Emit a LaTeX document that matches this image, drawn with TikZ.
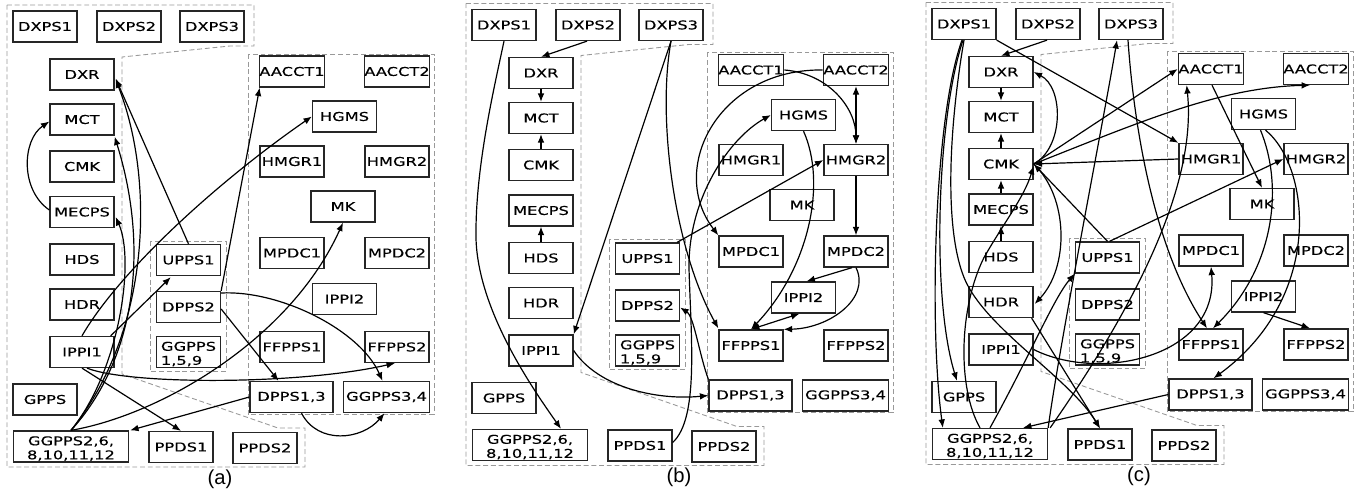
\documentclass[tikz,border=0pt]{standalone}
\usepackage{fontspec}
\setmainfont{Liberation Sans}
\newfontfamily\boxfont[FakeStretch=1.34,FakeBold=0.4]{DejaVu Sans}
\usetikzlibrary{arrows.meta,calc}

\tikzset{
  x=0.02cm, y=-0.02cm,
  box/.style={draw=black!85, line width=0.75pt, minimum width=1.28cm,
    minimum height=0.62cm, inner sep=0pt,
    font=\boxfont\fontsize{6.9}{8}\selectfont},
  wbox/.style={box, minimum width=#1},
  grp/.style={draw=black!40, line width=0.5pt, dash pattern=on 2.8pt off 1.6pt},
  edg/.style={line width=0.68pt, -{Latex[length=4.8pt,width=3.8pt]}},
  dedg/.style={line width=0.68pt, {Latex[length=4.8pt,width=3.8pt]}-{Latex[length=4.8pt,width=3.8pt]}},
  panellabel/.style={font=\fontsize{11.5}{13}\selectfont},
}

% the same set of boxes and group outlines is used in every panel
\newcommand\panelnodes[1]{%
  \draw[grp] (7,5) -- (254,5) -- (254,46) -- (230,46) -- (122,57) -- (122,374)
    -- (278,428) -- (305,428) -- (305,467) -- (7,467) -- cycle;
  \draw[grp] (248,54) rectangle (434,414);
  \draw[grp] (150,241) rectangle (226,371);
  \node[box] (#1DXPS1) at (45,26.5) {DXPS1};
  \node[box] (#1DXPS2) at (129,26.5) {DXPS2};
  \node[box] (#1DXPS3) at (212,26.5) {DXPS3};
  \node[box] (#1DXR) at (82,74.5) {DXR};
  \node[box] (#1MCT) at (82,119.5) {MCT};
  \node[box] (#1CMK) at (82,166.5) {CMK};
  \node[box] (#1MECPS) at (82,212) {MECPS};
  \node[box] (#1HDS) at (82,259.5) {HDS};
  \node[box] (#1HDR) at (82,304.5) {HDR};
  \node[box] (#1IPPI1) at (82,352) {IPPI1};
  \node[box] (#1GPPS) at (45,399.5) {GPPS};
  \node[wbox=2.3cm, align=center] (#1GGPPS2) at (71,446.5) {\rule{0pt}{7.4pt}GGPPS2,6,\\8,10,11,12};
  \node[box] (#1PPDS1) at (181,447) {PPDS1};
  \node[box] (#1PPDS2) at (265,448) {PPDS2};
  \node[box] (#1UPPS1) at (188.5,260) {UPPS1};
  \node[box] (#1DPPS2) at (188.5,307) {DPPS2};
  \node[box, align=left] (#1GGPPS159) at (188.5,352) {\rule{0pt}{7.4pt}GGPPS\\1,5,9};
  \node[box] (#1AACCT1) at (292,71.5) {AACCT1};
  \node[box] (#1AACCT2) at (397,71.5) {AACCT2};
  \node[box] (#1HGMS) at (344.5,116.5) {HGMS};
  \node[box] (#1HMGR1) at (292,161.5) {HMGR1};
  \node[box] (#1HMGR2) at (397,161.5) {HMGR2};
  \node[box] (#1MK) at (343,206.5) {MK};
  \node[box] (#1MPDC1) at (292,253) {MPDC1};
  \node[box] (#1MPDC2) at (397,253) {MPDC2};
  \node[box] (#1IPPI2) at (344.5,299) {IPPI2};
  \node[box] (#1FFPPS1) at (292,347) {FFPPS1};
  \node[box] (#1FFPPS2) at (397,347) {FFPPS2};
  \node[wbox=1.66cm] (#1DPPS13) at (291.5,397) {DPPS1,3};
  \node[wbox=1.72cm] (#1GGPPS34) at (386.5,397) {GGPPS3,4};
}

\begin{document}
\begin{tikzpicture}
\useasboundingbox (0,0) rectangle (1355,499);

% ---------------- panel (a)
\begin{scope}
\panelnodes{a}
\node[panellabel] (labA) at (220,479) {(a)};
\draw[edg] ($(aMECPS.west)+(0,-2)$) .. controls (20,190) and (22,140) .. ($(aMCT.west)+(0,2)$);
\draw[edg] (aGGPPS2.north) .. controls (120,370) and (135,260) .. ($(aMECPS.east)+(1,5)$);
\draw[edg] (aGGPPS2.north) .. controls (135,360) and (150,250) .. ($(aMCT.south east)+(0,1)$);
\draw[edg] (aGGPPS2.north) .. controls (151,331) and (155,180) .. ($(aDXR.east)+(1,5)$);
\draw[edg] (aUPPS1.north) -- ($(aDXR.east)+(1,4)$);
\draw[edg] (aIPPI1.north) .. controls (120,270) and (220,180) .. (aHGMS.west);
\draw[edg] ($(aIPPI1.north east)+(-4,0)$) -- ($(aUPPS1.south west)+(15,1)$);
\draw[edg] (aIPPI1.south) -- (aPPDS1.north);
\draw[edg] ($(aIPPI1.south)+(5,0)$) .. controls (130,385) and (300,385) .. ($(aFFPPS2.south)+(-2,0)$);
\draw[edg] (aDPPS2.north east) -- ($(aAACCT1.south west)+(1,0)$);
\draw[edg] ($(aDPPS2.east)+(0,-14)$) .. controls (280,290) and (360,330) .. ($(aGGPPS34.north)+(-4,0)$);
\draw[edg] ($(aDPPS2.east)+(0,2)$) -- ($(aDPPS13.north)+(-13,0)$);
\draw[edg] (aDPPS13.west) -- ($(aGGPPS2.north east)+(1,0)$);
\draw[edg] ($(aDPPS13.south)+(10,0)$) .. controls (318,445) and (362,440) .. ($(aGGPPS34.south)+(-2,0)$);
\draw[edg] (aGGPPS2.north) .. controls (160,415) and (290,340) .. (aMK.south);
\end{scope}

% ---------------- panel (b)
\begin{scope}[shift={(459,-1.5)}]
\panelnodes{b}
\node[panellabel] (labB) at (220,479) {(b)};
\draw[edg] ($(bDXPS2.south)+(-1,0)$) -- (bDXR.north);
\draw[edg] (bDXR.south) -- (bMCT.north);
\draw[edg] (bCMK.north) -- (bMCT.south);
\draw[edg] (bHDS.north) -- (bMECPS.south);
\draw[edg] (bDXPS1.south) .. controls (35,90) and (16,170) .. (17,240) .. controls (19,310) and (70,385) .. ($(bGGPPS2.north)+(31,0)$);
\draw[edg] (bDXPS3.south) -- (bIPPI1.north east);
\draw[edg] (bDXPS3.south) .. controls (198,120) and (215,250) .. ($(bFFPPS1.north west)+(0,-1)$);
\draw[edg] (bIPPI1.east) .. controls (140,390) and (200,402) .. (bDPPS13.west);
\draw[edg] ($(bUPPS1.north east)+(-3,0)$) -- (bHMGR2.west);
\draw[edg] ($(bPPDS1.east)+(0,-3)$) .. controls (240,420) and (232,340) .. (230,270) .. controls (229,200) and (270,140) .. (bHGMS.west);
\draw[edg] (bDPPS13.north west) .. controls (240,355) and (235,318) .. ($(bDPPS2.east)+(0,2)$);
\draw[edg] (bHGMS.south) .. controls (368,185) and (350,270) .. (bFFPPS1.north);
\draw[dedg] ($(bIPPI2.south)+(-4,0)$) -- (bFFPPS1.north);
\draw[edg] ($(bMPDC2.south)+(-4,0)$) -- ($(bIPPI2.north)+(3,0)$);
\draw[edg] (bMPDC2.south) .. controls (412,300) and (370,330) .. (bFFPPS1.north east);
\draw[edg] (bHMGR2.south) -- (bMPDC2.north);
\draw[dedg] (bAACCT2.south) -- (bHMGR2.north);
\draw[edg] (bAACCT1.east) .. controls (370,75) and (397,110) .. (bHMGR2.north);
\draw[edg] (bAACCT2.west) .. controls (260,70) and (208,170) .. (bMPDC1.north west);
\end{scope}

% ---------------- panel (c)
\begin{scope}[shift={(919,-2.5)}]
\panelnodes{c}
\node[panellabel] (labC) at (220,479) {(c)};
\draw[edg] ($(cDXPS2.south)+(-1,0)$) -- (cDXR.north);
\draw[edg] (cDXR.south) -- (cMCT.north);
\draw[edg] (cCMK.north) -- (cMCT.south);
\draw[edg] (cMECPS.north) -- (cCMK.south);
\draw[edg] (cHDS.north) -- (cMECPS.south);
\draw[edg] (cCMK.east) .. controls (145,150) and (145,90) .. (cDXR.east);
\draw[edg] (cCMK.east) .. controls (150,200) and (150,270) .. ($(cHDR.east)+(1,2)$);
\draw[edg] (cCMK.east) -- (cAACCT1.west);
\draw[edg] (cCMK.east) .. controls (220,125) and (300,90) .. ($(cAACCT2.south)+(-6,0)$);
\draw[edg] (cHMGR1.west) -- (cCMK.east);
\draw[edg] (cUPPS1.north) -- (cCMK.east);
\draw[edg] ($(cUPPS1.north)+(2,0)$) -- (cHMGR2.west);
\draw[edg] ($(cGGPPS2.north)+(-10,0)$) .. controls (38,390) and (40,310) .. (65,260) .. controls (85,225) and (105,200) .. ($(cCMK.east)+(0,2)$);
\draw[edg] ($(cDXPS1.south)+(-2,0)$) .. controls (15,120) and (10,330) .. ($(cGGPPS2.north west)+(11,0)$);
\draw[edg] ($(cDXPS1.south)+(-1,0)$) .. controls (18,120) and (12,300) .. ($(cGPPS.north)+(-7,0)$);
\draw[edg] (cDXPS1.south) .. controls (30,130) and (25,230) .. (45,280) .. controls (65,330) and (150,380) .. (cPPDS1.north);
\draw[edg] (cDXPS1.south east) -- (cHMGR1.north west);
\draw[edg] ($(cHDR.south east)+(-2,0)$) -- (cPPDS1.north);
\draw[edg] (cGGPPS2.north) .. controls (110,360) and (135,300) .. (cUPPS1.south west);
\draw[edg] (cGGPPS2.north east) .. controls (140,350) and (185,120) .. ($(cDXPS3.south)+(-14,0)$);
\draw[edg] ($(cGGPPS2.north east)+(2,0)$) .. controls (250,260) and (275,160) .. ($(cAACCT1.south west)+(9,0)$);
\draw[edg] (cDPPS13.west) -- ($(cGGPPS2.north)+(33,0)$);
\draw[edg] ($(cDXPS3.south)+(-3,0)$) .. controls (215,130) and (235,250) .. ($(cFFPPS1.north)+(-4,0)$);
\draw[edg] ($(cHGMS.south)+(-3,0)$) .. controls (365,190) and (355,270) .. ($(cFFPPS1.north)+(2,0)$);
\draw[edg] ($(cHGMS.south)+(2,0)$) .. controls (392,170) and (405,300) .. ($(cDPPS13.north)+(3,0)$);
\draw[edg] ($(cAACCT1.south)+(1,0)$) -- (cMK.north);
\draw[edg] (cIPPI2.south) -- ($(cFFPPS2.north)+(-6,0)$);
\draw[edg] (cIPPI1.east) .. controls (180,385) and (300,360) .. (cMPDC1.south);
\end{scope}
\end{tikzpicture}
\end{document}
